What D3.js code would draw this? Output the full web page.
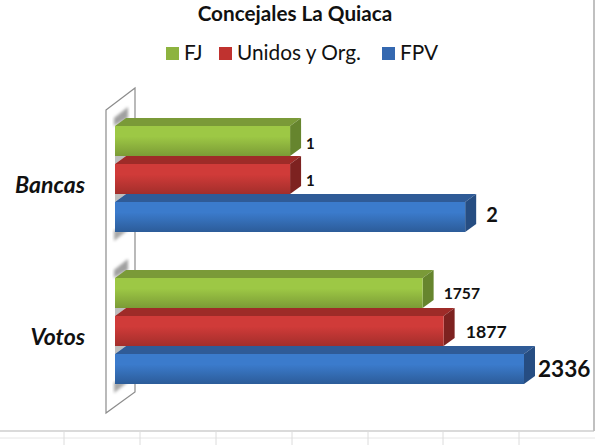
<!DOCTYPE html>
<html>
<head>
<meta charset="utf-8">
<script src="https://cdn.jsdelivr.net/npm/d3@7"></script>
<style>
html,body{margin:0;padding:0;background:#fff;}
svg{display:block;}
text{font-family:Lato,"Open Sans",sans-serif;fill:#111;}
</style>
</head>
<body>
<div id="chart"></div>
<script>
var categories = ["Bancas", "Votos"];
var seriesNames = ["FJ", "Unidos y Org.", "FPV"];
// bancas were plotted at 1000 per seat in the original sheet, labels show the seats
var bancasValues = [1000, 1000, 2000];
var votosValues = [1757, 1877, 2336];
var bancasLabels = ["1", "1", "2"];
var votosLabels = ["1757", "1877", "2336"];
var cellLines = [64, 140, 216, 292, 368, 443, 519];

var w = 595, h = 445;
var colors = [
  {light:"#9dc845", dark:"#7b9b36", top:"#7a9a38", side:"#66852e", key:"#8db33f"},
  {light:"#d03b39", dark:"#a32e2b", top:"#9e2b28", side:"#7d2220", key:"#c0322f"},
  {light:"#3b7bcc", dark:"#2c5c99", top:"#2f5b97", side:"#264d82", key:"#3468b0"}
];
var depth = {x:11, y:8};
var labelSize = [[15, 15, 20], [15.7, 17.7, 22.6]];
var labelGap = [[5, 5, 10], [10, 11, 3]];
var labelDy = [[6, 5, 1], [4, 4, 3]];

var svg = d3.select("#chart").append("svg").attr("width", w).attr("height", h);
var defs = svg.append("defs");
colors.forEach(function(c, i) {
  var g = defs.append("linearGradient").attr("id", "front" + i)
    .attr("x1", 0).attr("y1", 0).attr("x2", 0).attr("y2", 1);
  g.append("stop").attr("offset", "0%").attr("stop-color", c.light);
  g.append("stop").attr("offset", "35%").attr("stop-color", c.light);
  g.append("stop").attr("offset", "100%").attr("stop-color", c.dark);
});
defs.append("filter").attr("id", "soft").append("feGaussianBlur").attr("stdDeviation", 1.6);

var xScale = d3.scaleLinear().domain([0, 2336]).range([115, 524]);
var yCat = d3.scaleBand().domain(categories).range([126, 384]).paddingInner(46 / 152);
var ySeries = d3.scaleBand().domain(seriesNames).range([0, 106]).paddingInner(8 / 38);

// sheet cells behind the picture
svg.append("line").attr("x1", 0).attr("x2", 594).attr("y1", 431).attr("y2", 431)
  .attr("stroke", "#b5b5b5");
svg.append("line").attr("x1", 594).attr("x2", 594).attr("y1", 0).attr("y2", 431)
  .attr("stroke", "#c0c0c0").attr("stroke-width", 2);
svg.append("line").attr("x1", 0).attr("x2", w).attr("y1", 438).attr("y2", 438)
  .attr("stroke", "#e6e6e6");
svg.selectAll(".cell").data(cellLines).enter().append("line")
  .attr("x1", function(d) { return d; }).attr("x2", function(d) { return d; })
  .attr("y1", 431).attr("y2", h).attr("stroke", "#dcdcdc");

// back wall
var x0 = xScale(0);
svg.append("path")
  .attr("d", "M106,110 L135,88 L135,392 L106,413 Z")
  .attr("fill", "#fff").attr("stroke", "#8c8c8c").attr("stroke-width", 1.2);

var groups = svg.selectAll(".cat").data(categories).enter().append("g")
  .attr("class", "cat")
  .attr("transform", function(d) { return "translate(0," + yCat(d) + ")"; });

// shadows on the wall
groups.each(function(cat) {
  var g = d3.select(this);
  g.append("path")
    .attr("d", "M" + (x0 - 1) + ",0 L" + (x0 - 1) + ",-8 L" + (x0 + 13) + ",-19 L" + (x0 + 13) + ",-8 Z")
    .attr("fill", "#a0a0a0").attr("filter", "url(#soft)");
  g.append("path")
    .attr("d", "M" + (x0 - 1) + ",104 L" + (x0 + 13) + ",104 L" + (x0 - 1) + ",115 Z")
    .attr("fill", "#a8a8a8").attr("filter", "url(#soft)");
  g.selectAll(".gap").data(seriesNames.slice(1)).enter().append("path").attr("class", "gap")
    .attr("d", function(d) {
      var y = ySeries(d);
      return "M" + x0 + "," + y + " L" + x0 + "," + (y - depth.y) + " L" + (x0 + depth.x) + "," + (y - depth.y) + " Z";
    })
    .attr("fill", "#bdbdbd");
});

function drawBars(cat, values, labels, row) {
  var g = groups.filter(function(d) { return d === cat; });
  var bars = g.selectAll(".bar").data(values).enter().append("g").attr("class", "bar");
  bars.append("path").attr("fill", function(d, i) { return colors[i].top; })
    .attr("d", function(d, i) {
      var y = ySeries(seriesNames[i]), x1 = xScale(d);
      return "M" + x0 + "," + y + " L" + (x0 + depth.x) + "," + (y - depth.y) +
        " L" + (x1 + depth.x) + "," + (y - depth.y) + " L" + x1 + "," + y + " Z";
    });
  bars.append("path").attr("fill", function(d, i) { return colors[i].side; })
    .attr("d", function(d, i) {
      var y = ySeries(seriesNames[i]), x1 = xScale(d), b = ySeries.bandwidth();
      return "M" + x1 + "," + y + " L" + (x1 + depth.x) + "," + (y - depth.y) +
        " L" + (x1 + depth.x) + "," + (y + b - depth.y) + " L" + x1 + "," + (y + b) + " Z";
    });
  bars.append("rect").attr("fill", function(d, i) { return "url(#front" + i + ")"; })
    .attr("x", x0)
    .attr("y", function(d, i) { return ySeries(seriesNames[i]); })
    .attr("width", function(d) { return xScale(d) - x0; })
    .attr("height", ySeries.bandwidth());
  g.selectAll(".val").data(labels).enter().append("text").attr("class", "val")
    .text(function(d) { return d; })
    .attr("font-weight", 700)
    .attr("font-size", function(d, i) { return labelSize[row][i]; })
    .attr("x", function(d, i) { return xScale(values[i]) + depth.x + labelGap[row][i]; })
    .attr("y", function(d, i) { return ySeries(seriesNames[i]) + ySeries.bandwidth() / 2 - 4 + labelDy[row][i]; })
    .attr("dominant-baseline", "central");
}
drawBars("Bancas", bancasValues, bancasLabels, 0);
drawBars("Votos", votosValues, votosLabels, 1);

// category labels
svg.selectAll(".catlabel").data(categories).enter().append("text")
  .attr("class", "catlabel")
  .text(function(d) { return d; })
  .attr("text-anchor", "end").attr("x", 85)
  .attr("y", function(d) { return yCat(d) + yCat.bandwidth() / 2 + 14; })
  .attr("font-size", 23).attr("font-weight", 700).attr("font-style", "italic");

// title
svg.append("text").text("Concejales La Quiaca")
  .attr("x", 295).attr("y", 21).attr("text-anchor", "middle")
  .attr("font-size", 20.7).attr("font-weight", 700);

// legend
var keyX = [166, 219, 382];
var legend = svg.selectAll(".key").data(seriesNames).enter().append("g").attr("class", "key");
legend.append("rect")
  .attr("x", function(d, i) { return keyX[i]; }).attr("y", 47)
  .attr("width", 13).attr("height", 13)
  .attr("fill", function(d, i) { return colors[i].key; });
legend.append("text").text(function(d) { return d; })
  .attr("x", function(d, i) { return keyX[i] + 18; }).attr("y", 60)
  .attr("font-size", 20.8);
</script>
</body>
</html>
